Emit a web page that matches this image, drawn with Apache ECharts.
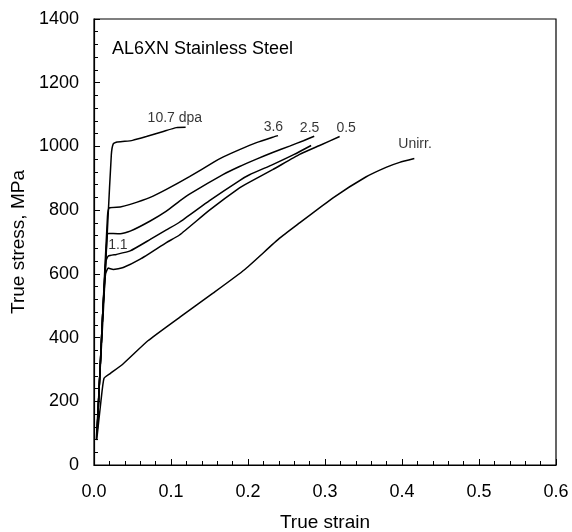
<!DOCTYPE html>
<html>
<head>
<meta charset="utf-8">
<script src="https://cdn.jsdelivr.net/npm/echarts@6/dist/echarts.min.js"></script>
<style>
  html, body { margin: 0; padding: 0; background: #fff; }
  #chart { width: 572px; height: 532px; }
</style>
</head>
<body>
<div id="chart"></div>
<script>
// True stress–strain curves of AL6XN stainless steel after irradiation
const title = 'AL6XN Stainless Steel';
const xTicks = [0, 0.1, 0.2, 0.3, 0.4, 0.5, 0.6];
const yTicks = [0, 200, 400, 600, 800, 1000, 1200, 1400];

// [true strain, true stress (MPa)]
const dpa10_7 = [[0.003,80],[0.008,300],[0.0117,463],[0.018,766],[0.0225,974],[0.025,1008],[0.030,1014],[0.040,1016],[0.050,1019],[0.068,1031],[0.090,1047],[0.107,1059],[0.119,1060]];
const dpa3_6 = [[0.004,100],[0.011,460],[0.0175,780],[0.0198,807],[0.034,810],[0.047,818],[0.073,840],[0.094,865],[0.124,905],[0.155,950],[0.168,967],[0.189,990],[0.211,1012],[0.232,1029],[0.239,1034]];
const dpa2_5 = [[0.004,100],[0.011,460],[0.0165,700],[0.0185,727],[0.034,726],[0.047,734],[0.073,766],[0.094,797],[0.111,828],[0.124,850],[0.168,912],[0.189,937],[0.211,960],[0.232,981],[0.254,1001],[0.272,1018],[0.286,1032]];
const dpa1_1 = [[0.004,100],[0.011,460],[0.0155,640],[0.0185,656],[0.029,661],[0.047,672],[0.073,708],[0.094,738],[0.111,762],[0.150,830],[0.189,893],[0.202,911],[0.232,943],[0.260,975],[0.282,1003]];
const dpa0_5 = [[0.004,100],[0.011,460],[0.015,600],[0.0185,618],[0.025,614],[0.038,620],[0.060,646],[0.094,698],[0.111,722],[0.150,800],[0.189,870],[0.202,888],[0.232,927],[0.267,975],[0.293,1003],[0.319,1031]];
const unirr = [[0.0035,78],[0.009,200],[0.013,272],[0.021,287],[0.038,318],[0.070,390],[0.112,465],[0.155,540],[0.195,612],[0.241,712],[0.267,760],[0.310,838],[0.353,904],[0.380,935],[0.397,950],[0.416,962]];

// curve labels: [strain, stress, text]
const curveLabels = [
  [0.105, 1088, '10.7 dpa'],
  [0.233, 1060, '3.6'],
  [0.280, 1057, '2.5'],
  [0.3275, 1057, '0.5'],
  [0.417, 1008, 'Unirr.'],
  [0.031, 690, '1.1']
];

const FONT = 'Liberation Sans, Arial, sans-serif';
const curves = [dpa10_7, dpa3_6, dpa2_5, dpa1_1, dpa0_5, unirr];

const chart = echarts.init(document.getElementById('chart'));
chart.setOption({
  animation: false,
  backgroundColor: '#fff',
  grid: {
    left: 94, right: 16, top: 19, bottom: 67, outerBoundsMode: 'none', containLabel: false,
    show: true, borderColor: '#000', borderWidth: 1.2
  },
  title: {
    text: title, left: 107, top: 35,
    textStyle: { fontFamily: FONT, fontSize: 18, fontWeight: 'normal', color: '#000' }
  },
  xAxis: {
    type: 'value', min: xTicks[0], max: xTicks[xTicks.length - 1], interval: 0.1,
    name: 'True strain', nameLocation: 'middle', nameGap: 48,
    nameTextStyle: { fontFamily: FONT, fontSize: 19, color: '#000' },
    axisLine: { lineStyle: { color: '#000', width: 1.2 } },
    axisTick: { inside: true, length: 6, lineStyle: { color: '#000' } },
    minorTick: { show: true, splitNumber: 5, length: 4, lineStyle: { color: '#000' } },
    axisLabel: { margin: 18, fontFamily: FONT, fontSize: 18, color: '#000', formatter: v => v.toFixed(1) },
    splitLine: { show: false }
  },
  yAxis: {
    type: 'value', min: yTicks[0], max: yTicks[yTicks.length - 1], interval: 200,
    name: 'True stress, MPa', nameLocation: 'middle', nameGap: 55,
    nameTextStyle: { fontFamily: FONT, fontSize: 19, color: '#000' },
    axisLine: { show: true, lineStyle: { color: '#000', width: 1.2 } },
    axisTick: { show: true, inside: true, length: 6, lineStyle: { color: '#000' } },
    minorTick: { show: true, splitNumber: 5, length: 4, lineStyle: { color: '#000' } },
    axisLabel: { margin: 15, fontFamily: FONT, fontSize: 18, color: '#000', formatter: v => String(v) },
    splitLine: { show: false }
  },
  series: curves.map(d => ({
    type: 'line', data: d, showSymbol: false, symbol: 'none',
    smooth: 0.15,
    lineStyle: { color: '#000', width: 1.5 }, z: 3
  })).concat([{
    type: 'scatter', data: curveLabels, symbolSize: 0, silent: true,
    label: {
      show: true, position: 'inside', formatter: p => p.data[2],
      fontFamily: FONT, fontSize: 14, color: '#000'
    }
  }])
});
</script>
</body>
</html>
